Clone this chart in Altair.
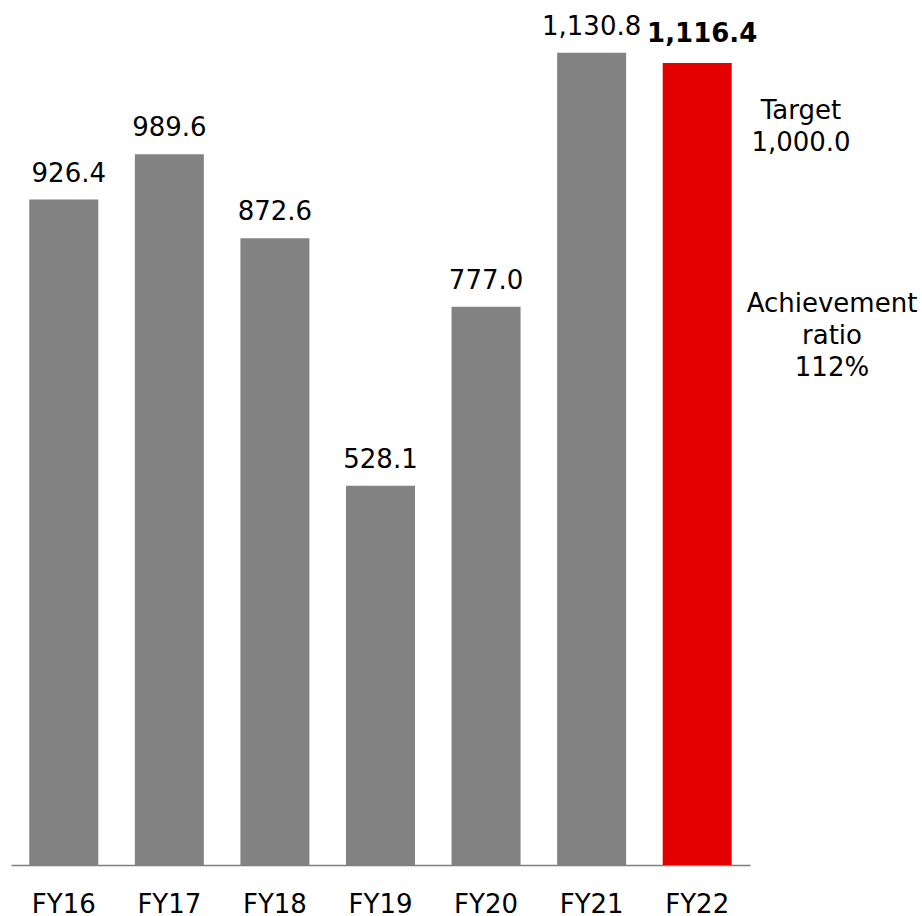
import altair as alt
import pandas as pd

years = ["FY16", "FY17", "FY18", "FY19", "FY20", "FY21", "FY22"]
values = [926.4, 989.6, 872.6, 528.1, 777.0, 1130.8, 1116.4]
highlight_year = "FY22"
target_lines = ["Target", "1,000.0"]
ratio_lines = ["Achievement", "ratio", "112%"]

df = pd.DataFrame({"year": years, "value": values})
one = pd.DataFrame({"k": [0]})

FONT = "DejaVu Sans"
GRAY = "#828282"
RED = "#E50000"

x = alt.X("year:N", sort=years, title=None,
          scale=alt.Scale(paddingInner=0.345, paddingOuter=0.1725),
          axis=alt.Axis(labelAngle=0, labelFont=FONT, labelFontSize=26,
                        labelColor="black", labelPadding=47,
                        labelBaseline="alphabetic", ticks=False, tickSize=0,
                        domainColor="#7f7f7f", domainWidth=1.5, grid=False))
y = alt.Y("value:Q", title=None, axis=None,
          scale=alt.Scale(domain=[0, 1204.2], nice=False, zero=True))

base = alt.Chart(df).encode(x=x, y=y)

bars = base.mark_bar(size=69).encode(
    color=alt.condition(alt.datum.year == highlight_year, alt.value(RED), alt.value(GRAY))
)

normal = base.transform_filter(
    (alt.datum.year != highlight_year) & (alt.datum.year != "FY16")
).mark_text(font=FONT, fontSize=26, baseline="alphabetic", dy=-18, color="black").encode(
    text=alt.Text("value:Q", format=",.1f"))

first = base.transform_filter(alt.datum.year == "FY16").mark_text(
    font=FONT, fontSize=26, baseline="alphabetic", dy=-18, dx=5, color="black").encode(
    text=alt.Text("value:Q", format=",.1f"))

bold = base.transform_filter(alt.datum.year == highlight_year).mark_text(
    font=FONT, fontSize=26, fontWeight="bold", baseline="alphabetic", dy=-21, dx=5,
    color="black").encode(text=alt.Text("value:Q", format=",.1f"))

target = alt.Chart(one).mark_text(
    font=FONT, fontSize=26, baseline="alphabetic", align="center", lineHeight=32,
    color="black").encode(x=alt.value(790), y=alt.value(119), text=alt.value(target_lines))

ratio = alt.Chart(one).mark_text(
    font=FONT, fontSize=26, baseline="alphabetic", align="center", lineHeight=32,
    color="black").encode(x=alt.value(821), y=alt.value(312), text=alt.value(ratio_lines))

chart = alt.layer(bars, normal, first, bold, target, ratio).properties(
    width=739, height=865,
    autosize=alt.AutoSizeParams(type="none"),
    padding={"left": 11, "top": 0, "right": 172, "bottom": 51},
).configure_view(stroke=None)

chart.save("out.html", embed_options={"renderer": "svg", "actions": False})
